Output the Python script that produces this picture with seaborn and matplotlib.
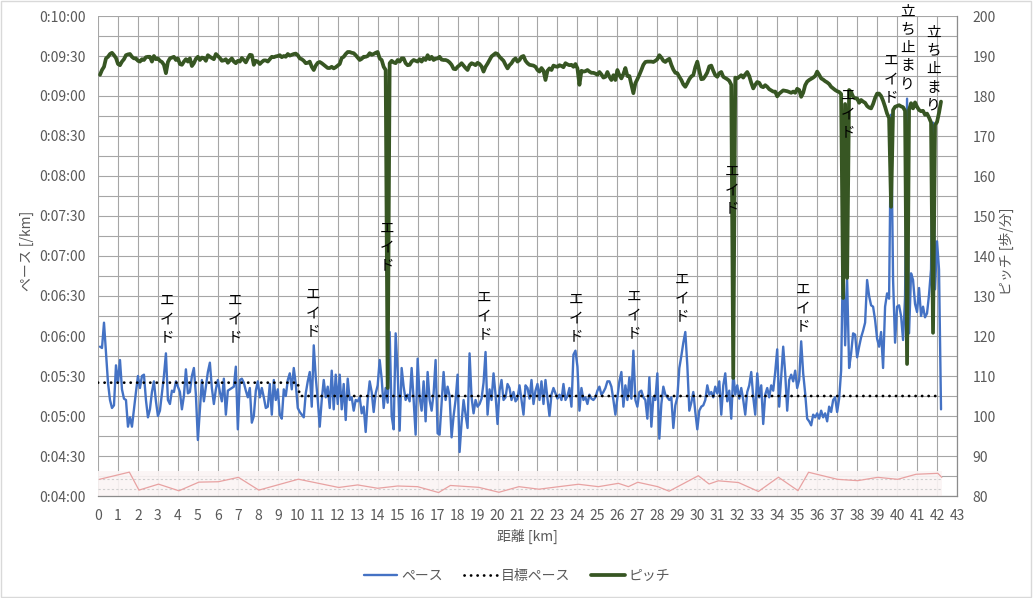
import numpy as np
import pandas as pd
import matplotlib
matplotlib.use("Agg")
import matplotlib.pyplot as plt
from matplotlib.patches import Rectangle
from matplotlib.ticker import FuncFormatter, MultipleLocator
import seaborn as sns

# ---------------- data ----------------
# pace [s/km], one row per km, samples every 0.1 km starting at 0.1 km
pace_rows = [
    [352, 351, 370, 348, 325, 312, 306, 308, 338, 325],
    [342, 320, 313, 312, 292, 299, 292, 305, 318, 330],
    [321, 330, 331, 312, 299, 305, 318, 326, 311, 300],
    [304, 317, 330, 347, 312, 309, 319, 318, 326, 322],
    [318, 305, 315, 335, 317, 318, 330, 336, 316, 282],
    [305, 327, 311, 322, 333, 340, 321, 309, 320, 327],
    [318, 311, 328, 301, 319, 320, 321, 322, 337, 290],
    [327, 328, 325, 319, 314, 321, 295, 300, 319, 326],
    [314, 321, 314, 306, 307, 324, 301, 327, 312, 320],
    [301, 298, 320, 315, 327, 332, 320, 336, 324, 306],
    [303, 301, 299, 317, 326, 333, 307, 353, 329, 312],
    [292, 312, 327, 314, 322, 306, 334, 305, 331, 309],
    [331, 305, 324, 297, 328, 312, 314, 304, 312, 311],
    [314, 302, 307, 288, 312, 326, 318, 303, 317, 323],
    [342, 328, 306, 321, 310, 363, 300, 290, 362, 333],
    [289, 336, 322, 312, 316, 311, 336, 312, 286, 343],
    [314, 304, 326, 296, 333, 312, 304, 317, 342, 287],
    [286, 310, 333, 312, 322, 315, 284, 300, 312, 331],
    [273, 295, 312, 301, 291, 347, 314, 302, 312, 307],
    [309, 313, 325, 348, 301, 320, 312, 332, 316, 294],
    [319, 327, 312, 314, 324, 321, 312, 318, 311, 313],
    [323, 312, 301, 323, 321, 313, 327, 309, 319, 324],
    [312, 326, 309, 327, 313, 300, 316, 321, 317, 313],
    [316, 312, 324, 312, 315, 321, 307, 346, 349, 337],
    [304, 321, 312, 314, 309, 316, 313, 312, 314, 319],
    [322, 316, 318, 321, 326, 326, 322, 312, 301, 314],
    [326, 333, 307, 323, 312, 329, 313, 349, 312, 307],
    [318, 319, 314, 312, 298, 329, 292, 314, 312, 332],
    [283, 309, 322, 316, 314, 312, 314, 291, 308, 314],
    [336, 345, 355, 363, 338, 304, 310, 318, 303, 290],
    [304, 307, 308, 312, 323, 316, 318, 314, 322, 317],
    [326, 301, 323, 332, 311, 319, 298, 333, 316, 323],
    [313, 321, 312, 301, 318, 323, 333, 314, 301, 332],
    [314, 323, 294, 316, 321, 314, 323, 319, 333, 350],
    [307, 329, 352, 332, 304, 327, 331, 326, 334, 321],
    [327, 356, 332, 317, 298, 296, 293, 301, 299, 302],
    [298, 304, 299, 302, 296, 307, 303, 312, 314, 303],
    [313, 334, 429, 353, 402, 336, 347, 362, 361, 344],
    [352, 359, 364, 370, 402, 390, 383, 382, 372, 358],
    [352, 363, 336, 382, 392, 388, 526, 402, 355, 382],
    [383, 375, 357, 389, 538, 362, 407, 402, 384, 378],
    [396, 375, 382, 374, 377, 391, 410, 520, 395, 431],
    [410, 305],
]

# pitch [steps/min], same sampling
pitch_rows = [
    [185.3, 186.5, 187.3, 189.4, 189.8, 190.5, 190.8, 190.2, 189.5, 188.0],
    [187.7, 188.6, 189.2, 190.2, 190.4, 190.5, 189.8, 189.4, 189.4, 188.8],
    [188.6, 189.2, 189.0, 189.7, 189.8, 189.8, 188.6, 190.0, 189.2, 189.4],
    [188.8, 188.5, 187.8, 185.7, 188.5, 189.4, 189.6, 189.8, 189.0, 189.4],
    [188.0, 187.8, 188.6, 189.2, 188.6, 189.4, 187.5, 188.2, 189.3, 189.8],
    [189.0, 189.6, 189.5, 188.8, 190.2, 189.8, 189.5, 189.2, 190.5, 190.0],
    [189.5, 188.8, 188.9, 189.2, 188.3, 188.9, 189.4, 188.6, 188.2, 188.8],
    [188.6, 189.5, 189.0, 188.4, 189.4, 190.3, 190.2, 187.8, 188.8, 188.6],
    [188.0, 188.5, 188.9, 188.9, 188.6, 189.2, 189.8, 189.7, 189.9, 190.0],
    [190.2, 189.7, 190.0, 189.8, 190.5, 190.1, 190.3, 190.5, 190.6, 190.2],
    [189.4, 189.2, 188.8, 188.2, 188.3, 188.6, 187.3, 186.5, 187.6, 188.3],
    [188.5, 188.2, 187.8, 187.4, 187.0, 187.0, 187.3, 186.9, 187.2, 187.6],
    [188.0, 189.5, 189.8, 190.5, 191.0, 191.0, 190.8, 190.7, 190.2, 189.6],
    [189.0, 189.3, 189.8, 189.8, 190.0, 190.7, 190.3, 190.5, 190.8, 191.0],
    [189.4, 189.0, 187.3, 186.5, 107.0, 188.2, 188.8, 188.4, 188.2, 189.0],
    [188.6, 189.4, 189.4, 188.2, 187.7, 187.8, 188.6, 189.0, 188.8, 188.6],
    [189.2, 188.6, 189.4, 189.0, 190.2, 189.2, 189.8, 189.0, 189.3, 189.4],
    [189.8, 189.1, 189.0, 189.0, 188.8, 188.4, 187.8, 186.8, 186.7, 187.3],
    [187.7, 188.2, 187.6, 187.0, 186.5, 187.7, 188.2, 188.0, 187.7, 188.3],
    [188.0, 187.4, 186.1, 187.3, 188.1, 189.0, 189.9, 190.3, 190.7, 190.5],
    [189.8, 189.3, 188.8, 187.8, 186.9, 187.7, 188.2, 189.0, 189.4, 188.6],
    [189.0, 189.8, 190.0, 188.8, 188.2, 187.8, 187.7, 187.6, 187.3, 186.5],
    [186.1, 187.0, 186.3, 184.0, 186.3, 186.9, 186.5, 187.6, 187.4, 187.3],
    [187.7, 187.5, 187.2, 188.2, 187.9, 187.7, 187.8, 187.3, 188.0, 186.9],
    [182.8, 186.3, 186.1, 186.2, 186.5, 186.1, 185.8, 185.8, 185.6, 185.3],
    [186.0, 185.4, 184.6, 184.8, 186.0, 184.8, 184.0, 185.2, 184.0, 186.5],
    [185.2, 184.4, 185.5, 187.0, 185.0, 185.0, 182.8, 180.7, 183.2, 184.2],
    [185.3, 186.5, 187.8, 188.5, 188.6, 188.6, 188.6, 188.5, 188.8, 189.2],
    [190.2, 189.6, 188.8, 188.5, 189.0, 189.3, 187.8, 186.6, 185.8, 185.7],
    [184.8, 184.0, 182.9, 182.3, 183.2, 184.2, 184.9, 185.2, 187.2, 188.6],
    [186.3, 184.2, 184.3, 185.0, 185.9, 187.4, 187.6, 186.3, 185.2, 184.8],
    [185.7, 186.0, 184.8, 184.5, 184.2, 183.8, 182.8, 109.5, 184.6, 184.4],
    [184.8, 185.2, 184.6, 185.4, 186.0, 185.0, 183.3, 181.9, 182.8, 183.5],
    [183.3, 182.4, 182.2, 182.7, 182.3, 181.7, 181.4, 181.1, 181.1, 179.9],
    [180.6, 181.0, 181.4, 181.3, 181.2, 181.0, 180.8, 181.1, 180.8, 181.8],
    [181.5, 179.8, 180.8, 182.7, 183.6, 184.0, 184.3, 184.6, 185.0, 186.1],
    [185.3, 184.4, 184.1, 183.7, 183.4, 183.0, 182.3, 181.9, 181.5, 181.2],
    [181.0, 180.5, 129.5, 178.0, 134.5, 181.5, 181.0, 179.8, 179.4, 179.4],
    [178.3, 179.0, 178.6, 178.3, 177.5, 177.1, 176.9, 178.0, 179.5, 180.6],
    [180.6, 180.0, 178.8, 177.3, 175.6, 174.5, 152.3, 176.5, 177.3, 177.5],
    [177.7, 177.4, 177.2, 176.3, 113.0, 176.5, 178.2, 176.9, 178.4, 177.3],
    [176.5, 176.2, 176.3, 175.3, 175.6, 174.6, 173.4, 120.8, 172.8, 173.5],
    [175.8, 178.6],
]

pace_sec = [v for row in pace_rows for v in row]
pitch_spm = [v for row in pitch_rows for v in row]
dist_km = np.round(np.arange(1, len(pace_sec) + 1) * 0.1, 1)

# target pace
target_km = [0.0, 10.0, 10.1, 42.0]
target_sec = [325, 325, 315, 315]

# faint per-lap line at the bottom
lap_km = [0.07, 1.57, 2.05, 3.03, 4.05, 5.05, 6.03, 7.03, 8.05, 9.04, 10.03,
          11.04, 12.05, 13.0, 14.0, 15.0, 16.0, 17.05, 17.64, 19.06, 20.07,
          21.07, 22.07, 23.07, 24.05, 25.05, 26.05, 26.55, 27.02, 28.02, 28.59,
          30.05, 30.59, 31.05, 32.06, 33.06, 34.06, 35.04, 35.57, 37.02, 38.03,
          39.03, 40.03, 40.95, 42.04, 42.24]
lap_sec = [252.5, 257.9, 244.4, 248.9, 243.9, 250.4, 250.7, 254.0, 244.4, 248.5, 252.6,
           249.5, 246.4, 248.3, 245.8, 247.5, 247.0, 242.6, 247.9, 246.5, 242.8,
           247.0, 245.1, 247.0, 248.8, 247.0, 249.5, 247.0, 250.3, 247.0, 243.6,
           255.2, 249.0, 251.4, 250.1, 243.4, 254.1, 244.0, 257.8, 252.5, 251.5,
           254.0, 252.5, 256.3, 257.0, 254.0]

# annotations (km, top of text in pace-seconds, text)
note_km = [3.44, 6.87, 10.76, 14.47, 19.35, 23.91, 26.83, 29.22, 31.76, 35.27,
           37.53, 39.70, 40.53, 41.82]
note_top = [391.5, 391.5, 396.0, 445.5, 393.8, 392.3, 394.5, 407.3, 488.3, 399.8,
            545.3, 571.5, 608.3, 592.5]
note_text = ["エイド"] * 12 + ["立ち止まり", "立ち止まり"]

# ---------------- plot ----------------
sns.set_theme(style="white")
plt.rcParams['font.family'] = ['Noto Sans CJK JP', 'DejaVu Sans']

W, H = 1033, 598
fig = plt.figure(figsize=(W / 100, H / 100), dpi=100)
fig.patches.append(Rectangle((0.0005, 0.001), 0.998, 0.997, transform=fig.transFigure,
                             fill=False, edgecolor='#d9d9d9', lw=1))
ax = fig.add_axes([98 / W, 1 - 496 / H, (957 - 98) / W, (496 - 16) / H])
ax2 = ax.twinx()

grid_c = '#a6a6a6'
tick_c = '#595959'

df = pd.DataFrame({"km": dist_km, "pace": pace_sec, "pitch": pitch_spm})

# faint band + lap line
ax.fill_between([0, 42.25], 240, 258.8, color='#fbf4f4', alpha=0.9, lw=0, zorder=1)
for yv in (252.5, 245.3):
    ax.plot([0, 42.25], [yv, yv], color='#cfcfcf', lw=0.8, ls=(0, (2, 2)), zorder=1.2)
sns.lineplot(x=lap_km, y=lap_sec, ax=ax, color='#e8a2a2', lw=0.9, legend=False,
             zorder=1.5, sort=False)

sns.lineplot(data=df, x="km", y="pace", ax=ax, color='#4472C4', lw=1.7,
             label='ペース', legend=False, zorder=3, solid_joinstyle='round')
sns.lineplot(x=target_km, y=target_sec, ax=ax, color='black', lw=2.0,
             linestyle=(0, (0.05, 2.3)), dash_capstyle='round',
             label='目標ペース', legend=False, zorder=4)
sns.lineplot(data=df, x="km", y="pitch", ax=ax2, color='#375623', lw=2.7,
             label='ピッチ', legend=False, zorder=3, solid_joinstyle='round')

# axes
ax.set_xlim(0, 43)
ax.set_ylim(240, 600)
ax2.set_ylim(80, 200)
ax.set_xticks(range(0, 44))
ax.set_yticks(range(240, 601, 30))
ax.yaxis.set_minor_locator(MultipleLocator(15))
ax2.set_yticks(range(80, 201, 10))
ax.yaxis.set_major_formatter(FuncFormatter(
    lambda v, p: f"0:{int(round(v)) // 60:02d}:{int(round(v)) % 60:02d}"))

ax.set_axisbelow(True)
ax.grid(True, which='both', axis='y', color=grid_c, lw=0.8)
ax.grid(True, which='major', axis='x', color=grid_c, lw=0.8)
ax2.grid(False)

ax.tick_params(axis='both', which='both', length=0, labelsize=10, labelcolor=tick_c)
ax.tick_params(axis='y', pad=9)
ax.tick_params(axis='x', pad=9)
ax2.tick_params(axis='y', length=0, labelsize=10, labelcolor=tick_c, pad=11)

for a in (ax, ax2):
    for s in a.spines.values():
        s.set_visible(False)
ax.spines['bottom'].set_visible(True)
ax.spines['bottom'].set_color('#8c8c8c')
ax.spines['bottom'].set_linewidth(0.9)
ax2.spines['right'].set_visible(True)
ax2.spines['right'].set_color('#8c8c8c')
ax2.spines['right'].set_linewidth(0.9)

ax.set_xlabel('距離 [km]', fontsize=10, color=tick_c)
ax.set_ylabel('ペース [/km]', fontsize=10, color=tick_c)
ax2.set_ylabel('ピッチ [歩/分]', fontsize=10, color=tick_c, rotation=90)
ax.xaxis.set_label_coords((527 - 98) / 859, (496 - 529) / 480)
ax.yaxis.set_label_coords((34 - 98) / 859, 0.51)
ax2.yaxis.set_label_coords((999 - 98) / 859, 0.51)

# annotations on top of everything
for k, t, s in zip(note_km, note_top, note_text):
    ax2.text(k, t, "\n".join(s), transform=ax.transData, ha='center', va='top',
             multialignment='center', fontsize=10.5, linespacing=1.38,
             color='black', zorder=10)

# legend
handles = [l for l in ax.get_lines() + ax2.get_lines()
           if l.get_label() in ('ペース', '目標ペース', 'ピッチ')]
leg = fig.legend(handles, [h.get_label() for h in handles], loc='center',
                 bbox_to_anchor=(517 / W, 1 - 576 / H), ncol=3, frameon=False,
                 fontsize=10, handlelength=2.4, columnspacing=1.5, handletextpad=0.3)
for txt in leg.get_texts():
    txt.set_color(tick_c)

fig.savefig("out.png", dpi=100)
